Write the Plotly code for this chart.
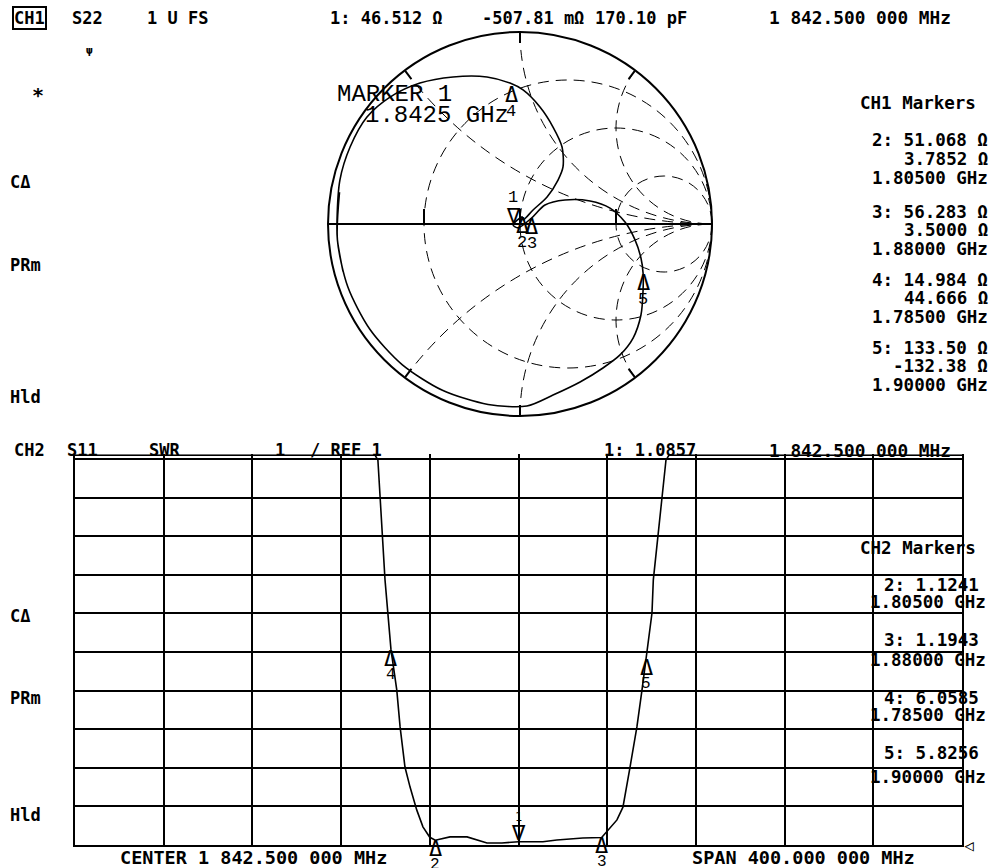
import numpy as np
import plotly.graph_objects as go

W, H = 997, 868

# ---------------- CH2 : S11 SWR trace ----------------
freq_mhz = [1642.5, 1777.8, 1779.1, 1780.0, 1782.3, 1785.0, 1787.6, 1789.1, 1791.3,
            1793.6, 1796.6, 1799.4, 1802.5, 1805.0, 1811.6, 1819.3, 1824.0, 1828.3,
            1835.0, 1842.5, 1853.5, 1859.8, 1871.5, 1880.0, 1886.9, 1889.6, 1892.8,
            1895.9, 1898.2, 1900.0, 1902.7, 1903.3, 1907.3, 1909.0, 1910.4, 2042.5]
swr = [11.1, 11.1, 10.97, 10.02, 7.87, 6.06, 5.02, 4.06, 3.02,
       2.50, 1.91, 1.47, 1.20, 1.124, 1.21, 1.21, 1.12, 1.05,
       1.05, 1.086, 1.086, 1.13, 1.18, 1.194, 1.65, 1.98, 3.02,
       4.06, 5.02, 5.83, 7.01, 7.87, 10.02, 10.97, 11.1, 11.1]

# CH2 markers
mk_id = ["1", "2", "3", "4", "5"]
mk_freq_mhz = [1842.5, 1805.0, 1880.0, 1785.0, 1900.0]
mk_swr = [1.0857, 1.1241, 1.1943, 6.0585, 5.8256]

# ---------------- CH1 : S22 trace, reflection coefficient ----------------
gamma_re = [-0.922, -0.951, -0.953, -0.938, -0.885, -0.797, -0.677, -0.521, -0.349, -0.172,
            -0.052, 0.016, 0.104, 0.172, 0.219, 0.224, 0.198, 0.141, 0.068, 0.016,
            0.012, -0.036, -0.010, 0.060, 0.130, 0.234, 0.365, 0.469, 0.547, 0.599,
            0.630, 0.641, 0.641, 0.630, 0.589, 0.521, 0.432, 0.313, 0.172, 0.036,
            -0.166, -0.404, -0.614, -0.782, -0.897, -0.951, -0.940]
gamma_im = [-0.247, -0.083, 0.021, 0.229, 0.401, 0.557, 0.661, 0.734, 0.766, 0.766,
            0.734, 0.698, 0.609, 0.505, 0.401, 0.297, 0.229, 0.141, 0.073, 0.021,
            0.037, -0.005, -0.020, 0.031, 0.099, 0.125, 0.120, 0.083, 0.010, -0.083,
            -0.177, -0.255, -0.344, -0.474, -0.594, -0.682, -0.750, -0.823, -0.891, -0.948,
            -0.940, -0.866, -0.732, -0.548, -0.327, -0.083, 0.166]

# CH1 markers (impedance readouts, ohm)
mk_r_ohm = [46.512, 51.068, 56.283, 14.984, 133.50]
mk_x_ohm = [-0.50781, 3.7852, 3.5000, 44.666, -132.38]
Z0 = 50.0

# Smith grid values
smith_r_grid = [1 / 3, 1, 3]
smith_x_grid = [-2, -1, -0.5, 0.5, 1, 2]

# ---------------- conversions ----------------
g = np.array(gamma_re) + 1j * np.array(gamma_im)
z = (1 + g) / (1 - g)
zm = (np.array(mk_r_ohm) + 1j * np.array(mk_x_ohm)) / Z0
gm = (zm - 1) / (zm + 1)

MONO = "DejaVu Sans Mono"
VEC = "Liberation Mono"

# layout geometry (pixels)
cx, cy, R = 520, 224, 192
gx0, gx1, gy_top, gy_bot = 75, 962, 459, 845
unit = (gy_bot - gy_top) / 10.0
ytop = 11.12

fig = go.Figure()

fig.add_trace(go.Scattersmith(real=z.real, imag=z.imag, mode="lines",
                              line=dict(color="black", width=1.6, shape="spline", smoothing=0.8),
                              showlegend=False, hoverinfo="skip"))

fig.add_trace(go.Scatter(x=freq_mhz, y=swr, mode="lines", xaxis="x", yaxis="y",
                         line=dict(color="black", width=1.6), showlegend=False,
                         hoverinfo="skip"))

ann = []
FS = 17


def txt(s, x, y, size=FS, anchor="left", family=MONO, bold=True, **kw):
    if bold:
        s = "<b>" + s + "</b>"
    return dict(text=s, x=x / W, y=1 - y / H, xref="paper", yref="paper",
                xanchor=anchor, yanchor="middle", showarrow=False,
                font=dict(family=family, size=size, color="black"), **kw)


# header CH1
ann.append(txt("CH1", 12, 18, bordercolor="black", borderwidth=2, borderpad=0))
ann += [txt("S22", 70, 18), txt("1 U FS", 145, 18), txt("1: 46.512 Ω", 328, 18),
        txt("-507.81 mΩ", 480, 18), txt("170.10 pF", 593, 18),
        txt("1 842.500 000 MHz", 767, 18, size=17.8)]
# left softkey labels
ann += [txt("ψ", 84, 50, size=11), txt("*", 30, 95, size=20),
        txt("CΔ", 8, 182), txt("PRm", 8, 265), txt("Hld", 8, 397),
        txt("CΔ", 8, 616), txt("PRm", 8, 698), txt("Hld", 8, 815)]
# CH1 marker list
ann.append(txt("CH1 Markers", 858, 103, size=17.5))
ch1_lines = [("2: 51.068 Ω", 140), ("3.7852 Ω", 159), ("1.80500 GHz", 178),
             ("3: 56.283 Ω", 212), ("3.5000 Ω", 230), ("1.88000 GHz", 249),
             ("4: 14.984 Ω", 280), ("44.666 Ω", 298), ("1.78500 GHz", 317),
             ("5: 133.50 Ω", 348), ("-132.38 Ω", 366), ("1.90000 GHz", 385)]
for s, yy in ch1_lines:
    ann.append(txt(s, 990, yy, anchor="right", size=17.5))
# Smith marker annotation
ann += [txt("MARKER 1", 335, 94, size=24, family=VEC, bold=False),
        txt("1.8425 GHz", 363, 116, size=24, family=VEC, bold=False)]

# header CH2
ann += [txt("CH2", 12, 450), txt("S11", 65, 450), txt("SWR", 147, 450), txt("1", 273, 450),
        txt("/ REF 1", 308, 450), txt("1: 1.0857", 602, 450),
        txt("1 842.500 000 MHz", 767, 450, size=17.8)]
# CH2 marker list
ann.append(txt("CH2 Markers", 858, 548, size=17.5))
ch2_lines = [("2: 1.1241", 882, 585, "left"), ("1.80500 GHz", 988, 602, "right"),
             ("3: 1.1943", 882, 640, "left"), ("1.88000 GHz", 988, 660, "right"),
             ("4: 6.0585", 882, 698, "left"), ("1.78500 GHz", 988, 715, "right"),
             ("5: 5.8256", 882, 753, "left"), ("1.90000 GHz", 988, 777, "right")]
for s, xx, yy, a in ch2_lines:
    ann.append(txt(s, xx, yy, anchor=a, size=17.5))
ann += [txt("CENTER 1 842.500 000 MHz", 118, 857, size=18.5),
        txt("SPAN 400.000 000 MHz", 690, 857, size=18.5),
        txt("◁", 962, 845, size=16, bold=False)]

BLK = "black"
# CH2 marker symbols (apex on trace)
for i, f, s in zip(mk_id, mk_freq_mhz, mk_swr):
    if i == "1":
        ann.append(dict(text="∇", x=f, y=s, xref="x", yref="y", showarrow=False,
                        yanchor="bottom", yshift=-5, font=dict(family=MONO, size=22, color=BLK)))
        ann.append(dict(text="1", x=f, y=s, xref="x", yref="y", showarrow=False,
                        yanchor="bottom", yshift=16, font=dict(family=MONO, size=12, color=BLK)))
    else:
        ann.append(dict(text="Δ", x=f, y=s, xref="x", yref="y", showarrow=False,
                        yanchor="top", yshift=6, font=dict(family=MONO, size=22, color=BLK)))
        ann.append(dict(text=i, x=f, y=s, xref="x", yref="y", showarrow=False,
                        yanchor="top", yshift=-14, font=dict(family=VEC, size=16, color=BLK)))

# CH1 marker symbols on Smith chart (overlay axes in reflection-coefficient space)
for i, gg in zip(mk_id, gm):
    if i == "1":
        ann.append(dict(text="∇", x=gg.real, y=gg.imag, xref="x2", yref="y2", showarrow=False,
                        yanchor="bottom", yshift=-5, font=dict(family=MONO, size=22, color=BLK)))
        ann.append(dict(text="1", x=gg.real, y=gg.imag, xref="x2", yref="y2", showarrow=False,
                        yanchor="bottom", yshift=16, font=dict(family=VEC, size=17, color=BLK)))
    else:
        ann.append(dict(text="Δ", x=gg.real, y=gg.imag, xref="x2", yref="y2", showarrow=False,
                        yanchor="top", yshift=6, font=dict(family=MONO, size=22, color=BLK)))
        ann.append(dict(text=i, x=gg.real, y=gg.imag, xref="x2", yref="y2", showarrow=False,
                        yanchor="top", yshift=-14, font=dict(family=VEC, size=17, color=BLK)))

axis_common = dict(showticklabels=False, ticks="", zeroline=False)
DASH = "11px,7px"

fig.update_layout(
    width=W, height=H, margin=dict(l=0, r=0, t=0, b=0),
    paper_bgcolor="white", plot_bgcolor="white", showlegend=False,
    smith=dict(
        domain=dict(x=[(cx - R) / W, (cx + R) / W], y=[1 - (cy + R) / H, 1 - (cy - R) / H]),
        bgcolor="white",
        realaxis=dict(tickvals=smith_r_grid, showticklabels=False, ticks="top", ticklen=14,
                      tickwidth=1.6, tickcolor="black",
                      gridcolor="black", griddash=DASH, gridwidth=1.3,
                      linecolor="black", linewidth=1.8, showline=True),
        imaginaryaxis=dict(tickvals=smith_x_grid, showticklabels=False, ticks="inside",
                           ticklen=10, tickwidth=1.6, tickcolor="black",
                           gridcolor="black", griddash=DASH, gridwidth=1.3,
                           linecolor="black", linewidth=2, showline=True),
    ),
    xaxis=dict(domain=[gx0 / W, gx1 / W], range=[1642.5, 2042.5], tick0=1642.5, dtick=40,
               showgrid=True, gridcolor="black", gridwidth=2, showline=True,
               linecolor="black", linewidth=2, mirror=False, anchor="y", **axis_common),
    yaxis=dict(domain=[1 - gy_bot / H, 1 - (gy_bot - (ytop - 1) * unit) / H],
               range=[1, ytop], tick0=1, dtick=1,
               showgrid=True, gridcolor="black", gridwidth=2, showline=True,
               linecolor="black", linewidth=2, mirror=True, anchor="x", **axis_common),
    xaxis2=dict(domain=[(cx - R) / W, (cx + R) / W], range=[-1, 1], visible=False,
                anchor="y2"),
    yaxis2=dict(domain=[1 - (cy + R) / H, 1 - (cy - R) / H], range=[-1, 1], visible=False,
                anchor="x2"),
    annotations=ann,
)

fig.write_html("out.html", config={"displayModeBar": False},
               post_script="document.body.style.margin='0px';"
                           "document.body.style.overflow='hidden';")
